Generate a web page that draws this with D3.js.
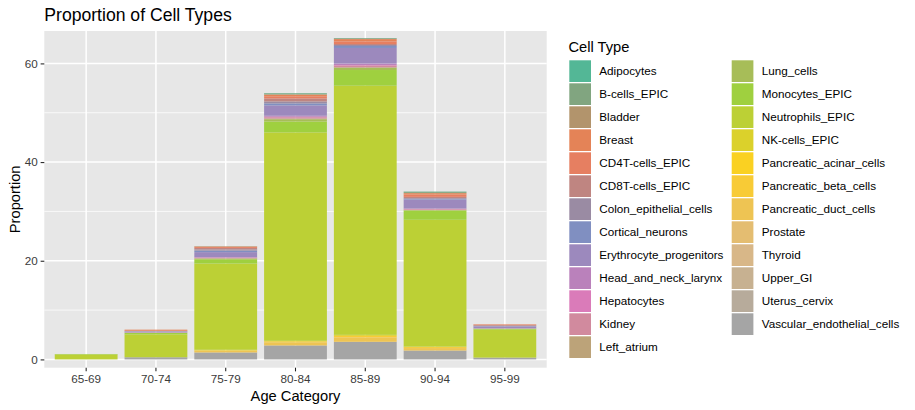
<!DOCTYPE html>
<html><head><meta charset="utf-8">
<script src="https://cdn.jsdelivr.net/npm/d3@7"></script>
<style>body{margin:0;background:#fff}svg{display:block;font-family:"Liberation Sans",Arial,sans-serif}</style>
</head><body><svg id="c" width="915" height="410"></svg>
<script>
const ageCategories = ["65-69","70-74","75-79","80-84","85-89","90-94","95-99"];
const cellTypes = ["Adipocytes","B-cells_EPIC","Bladder","Breast","CD4T-cells_EPIC","CD8T-cells_EPIC","Colon_epithelial_cells","Cortical_neurons","Erythrocyte_progenitors","Head_and_neck_larynx","Hepatocytes","Kidney","Left_atrium","Lung_cells","Monocytes_EPIC","Neutrophils_EPIC","NK-cells_EPIC","Pancreatic_acinar_cells","Pancreatic_beta_cells","Pancreatic_duct_cells","Prostate","Thyroid","Upper_GI","Uterus_cervix","Vascular_endothelial_cells"];
// values per age category (65-69 ... 95-99)
const Adipocytes = [0,0,0,0.05,0.02,0.03,0];
const B_cells_EPIC = [0,0,0.05,0.2,0.15,0.25,0];
const Bladder = [0,0,0,0.1,0.05,0.05,0];
const Breast = [0,0.1,0.1,0.3,0.45,0.3,0.05];
const CD4T_cells_EPIC = [0,0.15,0.2,0.45,0.55,0.45,0.1];
const CD8T_cells_EPIC = [0,0.05,0.3,0.6,0.2,0.25,0.15];
const Colon_epithelial_cells = [0,0.05,0.25,0.4,0.2,0.15,0.1];
const Cortical_neurons = [0,0.05,0.3,0.4,0.4,0.15,0.05];
const Erythrocyte_progenitors = [0,0.15,1.0,2.1,3.15,1.8,0.35];
const Head_and_neck_larynx = [0,0.03,0.1,0.2,0.3,0.1,0.05];
const Hepatocytes = [0,0.02,0.05,0.1,0.1,0.05,0];
const Kidney = [0,0.03,0.1,0.25,0.35,0.15,0.03];
const Left_atrium = [0,0,0.05,0.15,0.12,0.05,0];
const Lung_cells = [0,0.05,0.15,0.45,0.45,0.05,0.02];
const Monocytes_EPIC = [0.1,0.26,0.87,2.22,3.18,1.9,0.2];
const Neutrophils_EPIC = [1.0,4.65,17.48,42.25,50.5,25.7,5.65];
const NK_cells_EPIC = [0,0,0.1,0.1,0.2,0.1,0];
const Pancreatic_acinar_cells = [0,0,0,0,0,0,0];
const Pancreatic_beta_cells = [0,0,0.1,0.2,0.3,0.2,0];
const Pancreatic_duct_cells = [0,0,0.34,0.64,0.91,0.5,0];
const Prostate = [0,0,0,0,0,0,0];
const Thyroid = [0,0,0,0,0,0,0];
const Upper_GI = [0,0,0,0,0,0,0];
const Uterus_cervix = [0,0,0,0,0,0,0];
const Vascular_endothelial_cells = [0,0.44,1.41,2.83,3.57,1.8,0.37];
const seriesValues = [Adipocytes,B_cells_EPIC,Bladder,Breast,CD4T_cells_EPIC,CD8T_cells_EPIC,Colon_epithelial_cells,Cortical_neurons,Erythrocyte_progenitors,Head_and_neck_larynx,Hepatocytes,Kidney,Left_atrium,Lung_cells,Monocytes_EPIC,Neutrophils_EPIC,NK_cells_EPIC,Pancreatic_acinar_cells,Pancreatic_beta_cells,Pancreatic_duct_cells,Prostate,Thyroid,Upper_GI,Uterus_cervix,Vascular_endothelial_cells];
const yTicks = [0,20,40,60];
const yMinor = [10,30,50];
const set2 = ["#66C2A5","#FC8D62","#8DA0CB","#E78AC3","#A6D854","#FFD92F","#E5C494","#B3B3B3"];

// screenshot appears with a display gamma shift; apply it to every colour
const G = 1.222;
function gam(c){const r=d3.rgb(c);const f=v=>Math.round(255*Math.pow(v/255,G));return d3.rgb(f(r.r),f(r.g),f(r.b)).formatHex();}
// colour ramp like colorRampPalette(Set2)(25)
const ramp = d3.scaleLinear().domain(d3.range(set2.length).map(i=>i/(set2.length-1))).range(set2).interpolate(d3.interpolateRgb);
const colors = cellTypes.map((c,i)=>gam(ramp(i/(cellTypes.length-1))));
const color = d3.scaleOrdinal().domain(cellTypes).range(colors);
const panelBg = gam("#EBEBEB"), axisText = gam("#4D4D4D"), tickCol = gam("#333333");

const svg = d3.select("#c");
const P = {l:44.3, r:546.7, t:31, b:367.7};
const x = d3.scaleBand().domain(ageCategories).range([P.l,P.r]).paddingInner(0.1).paddingOuter(0.15);
const y = d3.scaleLinear().domain([-1.68, 66.57]).range([P.b,P.t]);

svg.append("rect").attr("x",P.l).attr("y",P.t).attr("width",P.r-P.l).attr("height",P.b-P.t).attr("fill",panelBg);
const g = svg.append("g");
g.selectAll(".ym").data(yMinor).join("line").attr("x1",P.l).attr("x2",P.r).attr("y1",d=>y(d)).attr("y2",d=>y(d)).attr("stroke","#fff").attr("stroke-width",0.75);
g.selectAll(".yM").data(yTicks).join("line").attr("x1",P.l).attr("x2",P.r).attr("y1",d=>y(d)).attr("y2",d=>y(d)).attr("stroke","#fff").attr("stroke-width",1.5);
g.selectAll(".xM").data(ageCategories).join("line").attr("y1",P.t).attr("y2",P.b).attr("x1",d=>x(d)+x.bandwidth()/2).attr("x2",d=>x(d)+x.bandwidth()/2).attr("stroke","#fff").attr("stroke-width",1.5);

// stacked data: first factor on top -> stack reversed order
const table = ageCategories.map((a,j)=>{const o={age:a}; cellTypes.forEach((c,i)=>o[c]=seriesValues[i][j]); return o;});
const stack = d3.stack().keys(cellTypes.slice().reverse())(table);
svg.append("g").selectAll("g").data(stack).join("g").attr("fill",d=>color(d.key))
  .selectAll("rect").data(d=>d).join("rect")
  .attr("x",d=>x(d.data.age)).attr("width",x.bandwidth())
  .attr("y",d=>y(d[1])).attr("height",d=>Math.max(0,y(d[0])-y(d[1])));

// axes
const yAxis = d3.axisLeft(y).tickValues(yTicks).tickSize(3.67).tickPadding(2.9);
const ya = svg.append("g").attr("transform",`translate(${P.l},0)`).call(yAxis);
const xAxis = d3.axisBottom(x).tickSize(3.67).tickPadding(2.9);
const xa = svg.append("g").attr("transform",`translate(0,${P.b})`).call(xAxis);
[ya,xa].forEach(a=>{a.select(".domain").remove();a.selectAll(".tick line").attr("stroke",tickCol).attr("stroke-width",1.07);
  a.selectAll(".tick text").attr("fill",axisText).attr("font-size","11.7px").attr("font-family","Liberation Sans, Arial, sans-serif");});

svg.append("text").attr("x",P.l).attr("y",21).attr("font-size","17.6px").attr("fill","#000").text("Proportion of Cell Types");
svg.append("text").attr("x",(P.l+P.r)/2).attr("y",400.5).attr("text-anchor","middle").attr("font-size","14.7px").text("Age Category");
svg.append("text").attr("transform",`translate(19.5,${(P.t+P.b)/2}) rotate(-90)`).attr("text-anchor","middle").attr("font-size","14.7px").text("Proportion");

// legend
const lg = svg.append("g");
lg.append("text").attr("x",568.5).attr("y",51.7).attr("font-size","14.7px").text("Cell Type");
const perCol = 13;
const items = lg.selectAll("g.it").data(cellTypes).join("g").attr("class","it")
  .attr("transform",(d,i)=>`translate(${i<perCol?569.3:731.7},${60.3+(i%perCol)*23})`);
items.append("rect").attr("width",21.7).attr("height",21.7).attr("fill",d=>color(d));
items.append("text").attr("x",30).attr("y",15.1).attr("font-size","11.7px").attr("fill","#000").text(d=>d);
</script></body></html>
